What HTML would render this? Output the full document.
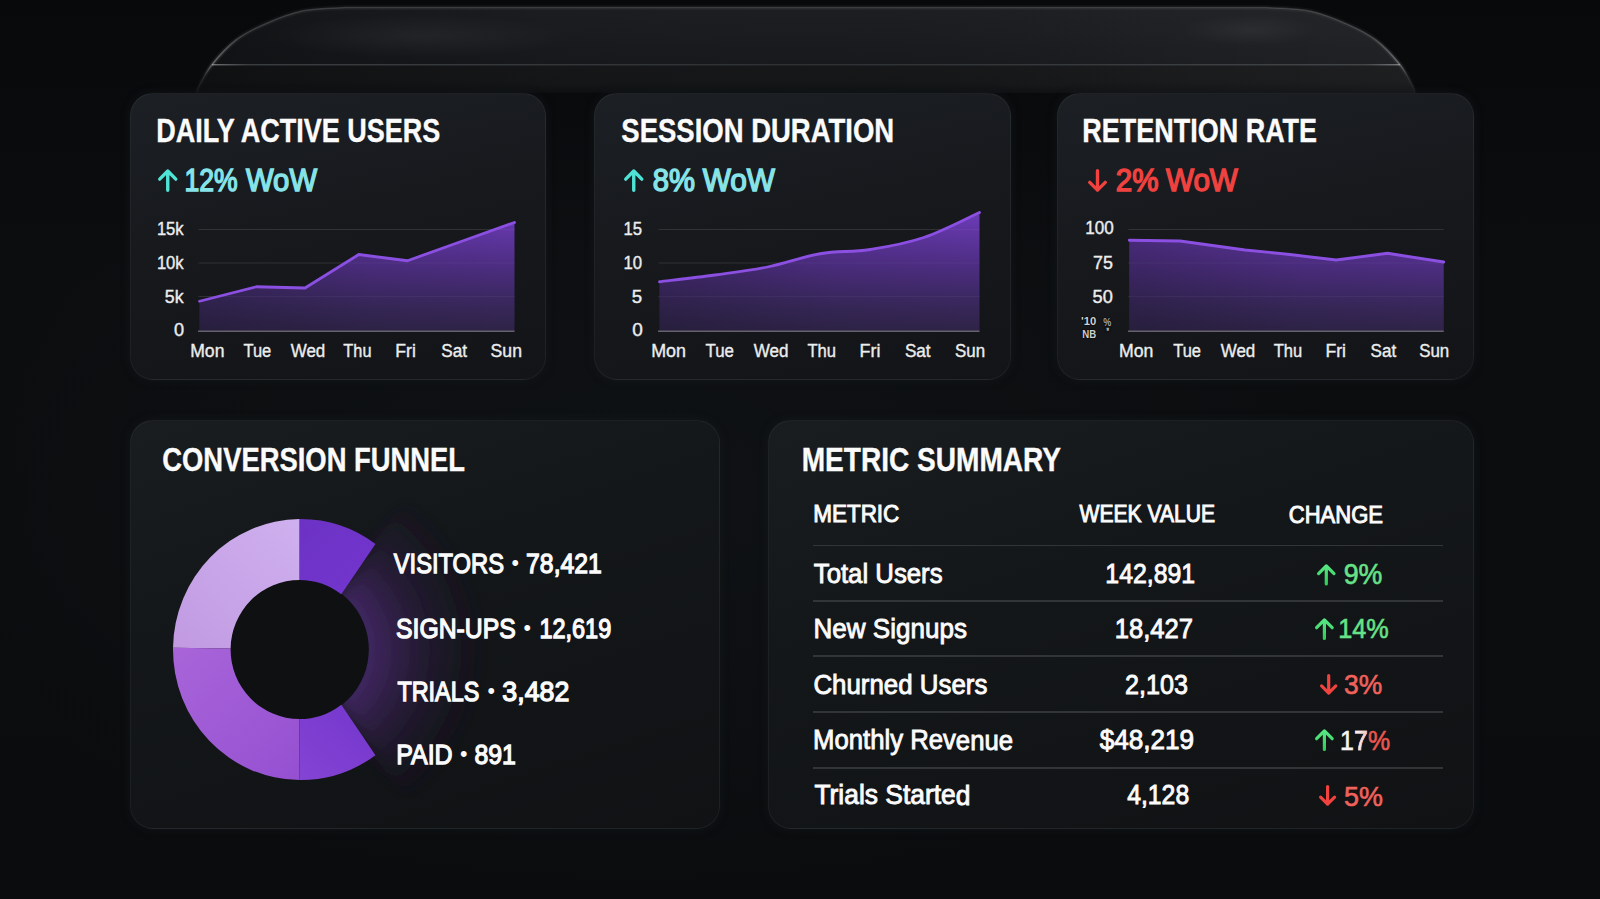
<!DOCTYPE html><html lang="en"><head><meta charset="utf-8"><title>Analytics Dashboard</title><style>

*{box-sizing:border-box;margin:0;padding:0}
html,body{width:1600px;height:899px;overflow:hidden;background:#0a0c0e}
body{position:relative;font-family:"Liberation Sans",sans-serif}
section{position:absolute;left:0;top:0;width:0;height:0}
.bg{position:absolute;inset:0;background:
 radial-gradient(1000px 560px at 40% 55%,rgba(18,21,24,.6),rgba(10,12,14,0) 72%),
 linear-gradient(180deg,#08090b 0%,#0b0d0f 30%,#0a0c0e 100%)}
.card{position:absolute;border-radius:23px;background:linear-gradient(168deg,#1c2024 0%,#17191d 42%,#121417 100%);
 border:1px solid rgba(255,255,255,.05);box-shadow:0 0 10px rgba(30,34,39,.4)}
#c4,#c5{background:linear-gradient(162deg,#1a1d20 0%,#141719 38%,#101214 100%)}
.t{position:absolute;white-space:nowrap;line-height:1;transform-origin:0 50%;font-weight:400}
.t b{font-weight:inherit}
.p7{background:linear-gradient(90deg,#f8f4f4 30%,#f3b5b1 100%);-webkit-background-clip:text;background-clip:text;color:transparent;-webkit-text-stroke-color:#f6d6d4}
.pp{color:#ea5751;-webkit-text-stroke-color:#ea5751}
.ar,.chart{position:absolute;overflow:visible}
.g{text-shadow:0 0 2px #000,0 0 1px #000}
.sep{position:absolute;left:812.5px;width:630.5px;height:1.7px;background:#323538}

</style></head><body>
<main><div class="bg"></div>
<svg width="0" height="0" style="position:absolute"><defs>
<linearGradient id="ag" gradientUnits="userSpaceOnUse" x1="0" y1="212" x2="0" y2="331">
<stop offset="0" stop-color="#6c3bb8"/><stop offset=".45" stop-color="#4d2d82"/><stop offset=".8" stop-color="#372759"/><stop offset="1" stop-color="#2e2347"/></linearGradient>
<linearGradient id="ad1" gradientUnits="userSpaceOnUse" x1="199.5" y1="0" x2="514.5" y2="0"><stop offset="0" stop-color="#15131f" stop-opacity=".28"/><stop offset=".55" stop-color="#15131f" stop-opacity=".06"/><stop offset="1" stop-color="#15131f" stop-opacity="0"/></linearGradient>
<linearGradient id="ad2" gradientUnits="userSpaceOnUse" x1="659.5" y1="0" x2="979.5" y2="0"><stop offset="0" stop-color="#15131f" stop-opacity=".28"/><stop offset=".55" stop-color="#15131f" stop-opacity=".06"/><stop offset="1" stop-color="#15131f" stop-opacity="0"/></linearGradient>
<linearGradient id="ad3" gradientUnits="userSpaceOnUse" x1="1129.25" y1="0" x2="1443.75" y2="0"><stop offset="0" stop-color="#15131f" stop-opacity=".28"/><stop offset=".55" stop-color="#15131f" stop-opacity=".06"/><stop offset="1" stop-color="#15131f" stop-opacity="0"/></linearGradient>
<radialGradient id="glow" gradientUnits="userSpaceOnUse" cx="300" cy="649.6" r="190"><stop offset="0" stop-color="#3e255e"/><stop offset=".38" stop-color="#3e255e"/><stop offset=".52" stop-color="#36214f" stop-opacity=".8"/><stop offset=".68" stop-color="#2e1d45" stop-opacity=".48"/><stop offset=".85" stop-color="#281a3c" stop-opacity=".18"/><stop offset="1" stop-color="#241636" stop-opacity="0"/></radialGradient>
<filter id="blur" x="-30%" y="-30%" width="160%" height="160%"><feGaussianBlur stdDeviation="8"/></filter>
<linearGradient id="gG" x1="0" y1="0" x2="0" y2="1"><stop offset="0" stop-color="#58e684"/><stop offset="1" stop-color="#2fcf58"/></linearGradient>
<linearGradient id="dA" gradientUnits="userSpaceOnUse" x1="300" y1="520" x2="376" y2="600"><stop offset="0" stop-color="#6c32c4"/><stop offset="1" stop-color="#7436d0"/></linearGradient>
<linearGradient id="dB" gradientUnits="userSpaceOnUse" x1="175" y1="650" x2="300" y2="520"><stop offset="0" stop-color="#c19ae2"/><stop offset="1" stop-color="#cfb0ee"/></linearGradient>
<linearGradient id="dC" gradientUnits="userSpaceOnUse" x1="175" y1="650" x2="300" y2="780"><stop offset="0" stop-color="#a864d8"/><stop offset="1" stop-color="#9550d2"/></linearGradient>
<linearGradient id="dD" gradientUnits="userSpaceOnUse" x1="300" y1="780" x2="376" y2="700"><stop offset="0" stop-color="#8444d4"/><stop offset="1" stop-color="#7336cc"/></linearGradient>
<linearGradient id="hf" gradientUnits="userSpaceOnUse" x1="0" y1="7" x2="0" y2="93"><stop offset="0" stop-color="#1c1e21"/><stop offset=".3" stop-color="#1a1c1f"/><stop offset=".665" stop-color="#17191c"/><stop offset=".675" stop-color="#151719"/><stop offset=".9" stop-color="#141618"/><stop offset="1" stop-color="#0d0f11"/></linearGradient>
<linearGradient id="hd" gradientUnits="userSpaceOnUse" x1="197" y1="0" x2="1415" y2="0"><stop offset="0" stop-color="#0a0c0e" stop-opacity=".6"/><stop offset=".1" stop-color="#0a0c0e" stop-opacity=".38"/><stop offset=".28" stop-color="#0a0c0e" stop-opacity=".08"/><stop offset=".5" stop-color="#15171a" stop-opacity="0"/><stop offset=".8" stop-color="#ffffff" stop-opacity=".02"/><stop offset="1" stop-color="#ffffff" stop-opacity=".035"/></linearGradient>
<radialGradient id="hs"><stop offset="0" stop-color="#fff" stop-opacity=".05"/><stop offset="1" stop-color="#fff" stop-opacity="0"/></radialGradient>
<linearGradient id="hr" gradientUnits="userSpaceOnUse" x1="0" y1="7" x2="0" y2="93"><stop offset="0" stop-color="#fff" stop-opacity=".15"/><stop offset=".3" stop-color="#fff" stop-opacity=".15"/><stop offset=".66" stop-color="#fff" stop-opacity=".3"/><stop offset=".8" stop-color="#fff" stop-opacity=".1"/><stop offset="1" stop-color="#fff" stop-opacity=".02"/></linearGradient>
<linearGradient id="hl" x1="0" y1="0" x2="1" y2="0"><stop offset="0" stop-color="#d0d4d8" stop-opacity=".55"/><stop offset=".03" stop-color="#8a8e92" stop-opacity=".38"/><stop offset=".5" stop-color="#6c7074" stop-opacity=".3"/><stop offset=".97" stop-color="#8a8e92" stop-opacity=".38"/><stop offset="1" stop-color="#d0d4d8" stop-opacity=".55"/></linearGradient>
</defs></svg>
<svg class="chart" style="left:0;top:0" width="1600" height="120" viewBox="0 0 1600 120"><path d="M197.0 93.0C197.2 92.0 196.0 91.7 198.5 87.0C201.0 82.3 205.7 72.5 211.9 64.7C218.2 56.9 227.3 46.7 236.0 40.0C244.7 33.3 253.0 29.2 264.0 24.4C275.0 19.6 288.5 13.8 302.0 11.0C315.5 8.2 337.8 8.1 345.0 7.5L1267.0 7.5C1274.2 8.1 1296.5 8.2 1310.0 11.0C1323.5 13.8 1337.0 19.6 1348.0 24.4C1359.0 29.2 1367.3 33.3 1376.0 40.0C1384.7 46.7 1393.8 56.9 1400.1 64.7C1406.3 72.5 1411.0 82.3 1413.5 87.0C1416.0 91.7 1414.8 92.0 1415.0 93.0Z" fill="url(#hf)"/><path d="M197.0 93.0C197.2 92.0 196.0 91.7 198.5 87.0C201.0 82.3 205.7 72.5 211.9 64.7C218.2 56.9 227.3 46.7 236.0 40.0C244.7 33.3 253.0 29.2 264.0 24.4C275.0 19.6 288.5 13.8 302.0 11.0C315.5 8.2 337.8 8.1 345.0 7.5L1267.0 7.5C1274.2 8.1 1296.5 8.2 1310.0 11.0C1323.5 13.8 1337.0 19.6 1348.0 24.4C1359.0 29.2 1367.3 33.3 1376.0 40.0C1384.7 46.7 1393.8 56.9 1400.1 64.7C1406.3 72.5 1411.0 82.3 1413.5 87.0C1416.0 91.7 1414.8 92.0 1415.0 93.0Z" fill="url(#hd)"/><ellipse cx="420" cy="36" rx="150" ry="22" fill="url(#hs)"/><ellipse cx="1250" cy="30" rx="70" ry="16" fill="url(#hs)"/><path d="M197.0 93.0C197.2 92.0 196.0 91.7 198.5 87.0C201.0 82.3 205.7 72.5 211.9 64.7C218.2 56.9 227.3 46.7 236.0 40.0C244.7 33.3 253.0 29.2 264.0 24.4C275.0 19.6 288.5 13.8 302.0 11.0C315.5 8.2 337.8 8.1 345.0 7.5L1267.0 7.5C1274.2 8.1 1296.5 8.2 1310.0 11.0C1323.5 13.8 1337.0 19.6 1348.0 24.4C1359.0 29.2 1367.3 33.3 1376.0 40.0C1384.7 46.7 1393.8 56.9 1400.1 64.7C1406.3 72.5 1411.0 82.3 1413.5 87.0C1416.0 91.7 1414.8 92.0 1415.0 93.0" fill="none" stroke="url(#hr)" stroke-width="5" stroke-opacity=".22"/><path d="M197.0 93.0C197.2 92.0 196.0 91.7 198.5 87.0C201.0 82.3 205.7 72.5 211.9 64.7C218.2 56.9 227.3 46.7 236.0 40.0C244.7 33.3 253.0 29.2 264.0 24.4C275.0 19.6 288.5 13.8 302.0 11.0C315.5 8.2 337.8 8.1 345.0 7.5L1267.0 7.5C1274.2 8.1 1296.5 8.2 1310.0 11.0C1323.5 13.8 1337.0 19.6 1348.0 24.4C1359.0 29.2 1367.3 33.3 1376.0 40.0C1384.7 46.7 1393.8 56.9 1400.1 64.7C1406.3 72.5 1411.0 82.3 1413.5 87.0C1416.0 91.7 1414.8 92.0 1415.0 93.0" fill="none" stroke="url(#hr)" stroke-width="1.6"/><rect x="212" y="64.1" width="1188" height="1.3" fill="url(#hl)"/></svg>
<section id="s1" aria-label="Daily Active Users"><div class="card" id="c1" style="left:130px;top:93px;width:416px;height:287px"></div>
<svg class="chart" style="left:0;top:0" width="1600" height="899" viewBox="0 0 1600 899"><line x1="198" x2="514.5" y1="229.5" y2="229.5" stroke="#ffffff" stroke-opacity="0.075" stroke-width="1.2"/><line x1="198" x2="514.5" y1="263" y2="263" stroke="#ffffff" stroke-opacity="0.075" stroke-width="1.2"/><line x1="198" x2="514.5" y1="296.5" y2="296.5" stroke="#ffffff" stroke-opacity="0.075" stroke-width="1.2"/><polygon points="199.5,331.25 199.50,301.25 256.25,286.75 305.00,288.00 358.75,254.50 407.50,260.75 462.50,241.00 514.50,222.50 514.5,331.25" fill="url(#ag)"/><polygon points="199.5,331.25 199.50,301.25 256.25,286.75 305.00,288.00 358.75,254.50 407.50,260.75 462.50,241.00 514.50,222.50 514.5,331.25" fill="url(#ad1)"/><line x1="199.5" x2="514.5" y1="229.5" y2="229.5" stroke="#ffffff" stroke-opacity="0.045" stroke-width="1.2"/><line x1="199.5" x2="514.5" y1="263" y2="263" stroke="#ffffff" stroke-opacity="0.045" stroke-width="1.2"/><line x1="199.5" x2="514.5" y1="296.5" y2="296.5" stroke="#ffffff" stroke-opacity="0.045" stroke-width="1.2"/><polyline points="199.50,301.25 256.25,286.75 305.00,288.00 358.75,254.50 407.50,260.75 462.50,241.00 514.50,222.50" fill="none" stroke="#8b50e2" stroke-width="2.8" stroke-linejoin="round" stroke-linecap="round"/><line x1="198" x2="514.5" y1="331.25" y2="331.25" stroke="#65616f" stroke-width="1.3"/></svg>
<h2 class="t" style="left:156px;top:115px;font-size:32.49px;transform:translate(0.19px,0.32px) scaleX(0.8311) rotate(.02deg);color:#fbfbfc;font-weight:700;-webkit-text-stroke:0.35px #fbfbfc;">DAILY ACTIVE USERS</h2>
<svg class="ar" role="img" aria-label="up" style="left:158.00px;top:169.00px" width="19.50" height="22.90" viewBox="0 0 19.50 22.90"><path d="M9.75 21.20V2.04M1.70 10.09L9.75 2.04L17.80 10.09" fill="none" stroke="#4fe3d6" stroke-width="3.4" stroke-linecap="round" stroke-linejoin="round"/></svg>
<span class="t" style="left:184px;top:166px;font-size:30.96px;transform:translate(0.38px,0.30px) scaleX(0.8582) rotate(.02deg);color:#86e4e9;-webkit-text-stroke:1.4px #86e4e9;">12%</span>
<span class="t" style="left:246px;top:166px;font-size:30.96px;transform:translate(0.02px,0.30px) scaleX(0.9453) rotate(.02deg);color:#86e4e9;-webkit-text-stroke:1.4px #86e4e9;">WoW</span>
<span class="t" style="left:156px;top:219px;font-size:18.60px;transform:translate(0.88px,0.90px) scaleX(0.8935) rotate(.02deg);color:#eceded;-webkit-text-stroke:0.4px #eceded;">15k</span>
<span class="t" style="left:156px;top:253px;font-size:18.60px;transform:translate(0.88px,0.90px) scaleX(0.8935) rotate(.02deg);color:#eceded;-webkit-text-stroke:0.4px #eceded;">10k</span>
<span class="t" style="left:164px;top:287px;font-size:18.60px;transform:translate(0.86px,0.90px) scaleX(0.9508) rotate(.02deg);color:#eceded;-webkit-text-stroke:0.4px #eceded;">5k</span>
<span class="t" style="left:173px;top:320px;font-size:18.60px;transform:translate(0.90px,0.90px) scaleX(0.9750) rotate(.02deg);color:#eceded;-webkit-text-stroke:0.4px #eceded;">0</span>
<span class="t" style="left:190px;top:341px;font-size:19.19px;transform:translate(0.22px,0.20px) scaleX(0.9160) rotate(.02deg);color:#eceded;-webkit-text-stroke:0.4px #eceded;">Mon</span>
<span class="t" style="left:243px;top:341px;font-size:19.19px;transform:translate(0.46px,0.20px) scaleX(0.8588) rotate(.02deg);color:#eceded;-webkit-text-stroke:0.4px #eceded;">Tue</span>
<span class="t" style="left:290px;top:341px;font-size:19.19px;transform:translate(0.71px,0.20px) scaleX(0.8841) rotate(.02deg);color:#eceded;-webkit-text-stroke:0.4px #eceded;">Wed</span>
<span class="t" style="left:343px;top:341px;font-size:19.19px;transform:translate(0.37px,0.20px) scaleX(0.8497) rotate(.02deg);color:#eceded;-webkit-text-stroke:0.4px #eceded;">Thu</span>
<span class="t" style="left:395px;top:341px;font-size:19.19px;transform:translate(0.35px,0.20px) scaleX(0.9175) rotate(.02deg);color:#eceded;-webkit-text-stroke:0.4px #eceded;">Fri</span>
<span class="t" style="left:441px;top:341px;font-size:19.19px;transform:translate(0.25px,0.20px) scaleX(0.8934) rotate(.02deg);color:#eceded;-webkit-text-stroke:0.4px #eceded;">Sat</span>
<span class="t" style="left:490px;top:341px;font-size:19.19px;transform:translate(0.58px,0.20px) scaleX(0.9183) rotate(.02deg);color:#eceded;-webkit-text-stroke:0.4px #eceded;">Sun</span>
</section>
<section id="s2" aria-label="Session Duration"><div class="card" id="c2" style="left:594px;top:93px;width:417px;height:287px"></div>
<svg class="chart" style="left:0;top:0" width="1600" height="899" viewBox="0 0 1600 899"><line x1="658" x2="979.5" y1="229.5" y2="229.5" stroke="#ffffff" stroke-opacity="0.075" stroke-width="1.2"/><line x1="658" x2="979.5" y1="263" y2="263" stroke="#ffffff" stroke-opacity="0.075" stroke-width="1.2"/><line x1="658" x2="979.5" y1="296.5" y2="296.5" stroke="#ffffff" stroke-opacity="0.075" stroke-width="1.2"/><path d="M659.50 281.75C669.67 280.51 695.20 277.70 715.00 275.00C734.80 272.30 748.25 270.90 767.50 267.00C786.75 263.10 801.21 256.96 820.00 253.75C838.79 250.54 850.98 252.48 870.00 249.50C889.02 246.52 903.67 244.28 923.75 237.50C943.83 230.72 969.28 217.08 979.50 212.50L979.5 331.25L659.5 331.25Z" fill="url(#ag)"/><path d="M659.50 281.75C669.67 280.51 695.20 277.70 715.00 275.00C734.80 272.30 748.25 270.90 767.50 267.00C786.75 263.10 801.21 256.96 820.00 253.75C838.79 250.54 850.98 252.48 870.00 249.50C889.02 246.52 903.67 244.28 923.75 237.50C943.83 230.72 969.28 217.08 979.50 212.50L979.5 331.25L659.5 331.25Z" fill="url(#ad2)"/><line x1="659.5" x2="979.5" y1="229.5" y2="229.5" stroke="#ffffff" stroke-opacity="0.045" stroke-width="1.2"/><line x1="659.5" x2="979.5" y1="263" y2="263" stroke="#ffffff" stroke-opacity="0.045" stroke-width="1.2"/><line x1="659.5" x2="979.5" y1="296.5" y2="296.5" stroke="#ffffff" stroke-opacity="0.045" stroke-width="1.2"/><path d="M659.50 281.75C669.67 280.51 695.20 277.70 715.00 275.00C734.80 272.30 748.25 270.90 767.50 267.00C786.75 263.10 801.21 256.96 820.00 253.75C838.79 250.54 850.98 252.48 870.00 249.50C889.02 246.52 903.67 244.28 923.75 237.50C943.83 230.72 969.28 217.08 979.50 212.50" fill="none" stroke="#8b50e2" stroke-width="2.8" stroke-linejoin="round" stroke-linecap="round"/><line x1="658" x2="979.5" y1="331.25" y2="331.25" stroke="#65616f" stroke-width="1.3"/></svg>
<h2 class="t" style="left:621px;top:115px;font-size:32.49px;transform:translate(0.32px,0.32px) scaleX(0.8462) rotate(.02deg);color:#fbfbfc;font-weight:700;-webkit-text-stroke:0.35px #fbfbfc;">SESSION DURATION</h2>
<svg class="ar" role="img" aria-label="up" style="left:624.00px;top:169.00px" width="19.50" height="22.90" viewBox="0 0 19.50 22.90"><path d="M9.75 21.20V2.04M1.70 10.09L9.75 2.04L17.80 10.09" fill="none" stroke="#4fe3d6" stroke-width="3.4" stroke-linecap="round" stroke-linejoin="round"/></svg>
<span class="t" style="left:652px;top:166px;font-size:30.96px;transform:translate(0.83px,0.30px) scaleX(0.9445) rotate(.02deg);color:#86e4e9;-webkit-text-stroke:1.4px #86e4e9;">8%</span>
<span class="t" style="left:702px;top:166px;font-size:30.96px;transform:translate(0.65px,0.30px) scaleX(0.9634) rotate(.02deg);color:#86e4e9;-webkit-text-stroke:1.4px #86e4e9;">WoW</span>
<span class="t" style="left:623px;top:219px;font-size:18.60px;transform:translate(0.55px,0.90px) scaleX(0.8976) rotate(.02deg);color:#eceded;-webkit-text-stroke:0.4px #eceded;">15</span>
<span class="t" style="left:623px;top:253px;font-size:18.60px;transform:translate(0.40px,0.90px) scaleX(0.9010) rotate(.02deg);color:#eceded;-webkit-text-stroke:0.4px #eceded;">10</span>
<span class="t" style="left:631px;top:287px;font-size:18.60px;transform:translate(0.84px,0.90px) scaleX(1.0011) rotate(.02deg);color:#eceded;-webkit-text-stroke:0.4px #eceded;">5</span>
<span class="t" style="left:632px;top:320px;font-size:18.60px;transform:translate(0.20px,0.90px) scaleX(1.0212) rotate(.02deg);color:#eceded;-webkit-text-stroke:0.4px #eceded;">0</span>
<span class="t" style="left:651px;top:341px;font-size:19.19px;transform:translate(0.22px,0.20px) scaleX(0.9326) rotate(.02deg);color:#eceded;-webkit-text-stroke:0.4px #eceded;">Mon</span>
<span class="t" style="left:705px;top:341px;font-size:19.19px;transform:translate(0.48px,0.20px) scaleX(0.8778) rotate(.02deg);color:#eceded;-webkit-text-stroke:0.4px #eceded;">Tue</span>
<span class="t" style="left:753px;top:341px;font-size:19.19px;transform:translate(0.73px,0.20px) scaleX(0.8880) rotate(.02deg);color:#eceded;-webkit-text-stroke:0.4px #eceded;">Wed</span>
<span class="t" style="left:807px;top:341px;font-size:19.19px;transform:translate(0.41px,0.20px) scaleX(0.8649) rotate(.02deg);color:#eceded;-webkit-text-stroke:0.4px #eceded;">Thu</span>
<span class="t" style="left:859px;top:341px;font-size:19.19px;transform:translate(0.54px,0.20px) scaleX(0.9320) rotate(.02deg);color:#eceded;-webkit-text-stroke:0.4px #eceded;">Fri</span>
<span class="t" style="left:904px;top:341px;font-size:19.19px;transform:translate(0.89px,0.20px) scaleX(0.8920) rotate(.02deg);color:#eceded;-webkit-text-stroke:0.4px #eceded;">Sat</span>
<span class="t" style="left:954px;top:341px;font-size:19.19px;transform:translate(0.99px,0.20px) scaleX(0.8812) rotate(.02deg);color:#eceded;-webkit-text-stroke:0.4px #eceded;">Sun</span>
</section>
<section id="s3" aria-label="Retention Rate"><div class="card" id="c3" style="left:1057px;top:93px;width:417px;height:287px"></div>
<svg class="chart" style="left:0;top:0" width="1600" height="899" viewBox="0 0 1600 899"><line x1="1128" x2="1443.75" y1="229.5" y2="229.5" stroke="#ffffff" stroke-opacity="0.075" stroke-width="1.2"/><line x1="1128" x2="1443.75" y1="263" y2="263" stroke="#ffffff" stroke-opacity="0.075" stroke-width="1.2"/><line x1="1128" x2="1443.75" y1="296.5" y2="296.5" stroke="#ffffff" stroke-opacity="0.075" stroke-width="1.2"/><polygon points="1129.25,331.25 1129.25,240.25 1180.00,241.00 1245.00,250.00 1290.00,254.50 1336.25,260.00 1387.50,253.25 1443.75,262.00 1443.75,331.25" fill="url(#ag)"/><polygon points="1129.25,331.25 1129.25,240.25 1180.00,241.00 1245.00,250.00 1290.00,254.50 1336.25,260.00 1387.50,253.25 1443.75,262.00 1443.75,331.25" fill="url(#ad3)"/><line x1="1129.25" x2="1443.75" y1="229.5" y2="229.5" stroke="#ffffff" stroke-opacity="0.045" stroke-width="1.2"/><line x1="1129.25" x2="1443.75" y1="263" y2="263" stroke="#ffffff" stroke-opacity="0.045" stroke-width="1.2"/><line x1="1129.25" x2="1443.75" y1="296.5" y2="296.5" stroke="#ffffff" stroke-opacity="0.045" stroke-width="1.2"/><polyline points="1129.25,240.25 1180.00,241.00 1245.00,250.00 1290.00,254.50 1336.25,260.00 1387.50,253.25 1443.75,262.00" fill="none" stroke="#8b50e2" stroke-width="2.8" stroke-linejoin="round" stroke-linecap="round"/><line x1="1128" x2="1443.75" y1="331.25" y2="331.25" stroke="#65616f" stroke-width="1.3"/></svg>
<h2 class="t" style="left:1082px;top:115px;font-size:32.49px;transform:translate(0.34px,0.32px) scaleX(0.8303) rotate(.02deg);color:#fbfbfc;font-weight:700;-webkit-text-stroke:0.35px #fbfbfc;">RETENTION RATE</h2>
<svg class="ar" role="img" aria-label="down" style="left:1088.30px;top:168.90px" width="19.00" height="23.20" viewBox="0 0 19.00 23.20"><path d="M9.50 1.70V21.16M1.70 13.36L9.50 21.16L17.30 13.36" fill="none" stroke="#f0423f" stroke-width="3.4" stroke-linecap="round" stroke-linejoin="round"/></svg>
<span class="t" style="left:1115px;top:166px;font-size:30.96px;transform:translate(0.80px,0.30px) scaleX(0.9571) rotate(.02deg);color:#f0423f;-webkit-text-stroke:1.4px #f0423f;">2%</span>
<span class="t" style="left:1165px;top:166px;font-size:30.96px;transform:translate(0.94px,0.30px) scaleX(0.9578) rotate(.02deg);color:#f0423f;-webkit-text-stroke:1.4px #f0423f;">WoW</span>
<span class="t" style="left:1085px;top:219px;font-size:18.60px;transform:translate(0.31px,0.40px) scaleX(0.9176) rotate(.02deg);color:#eceded;-webkit-text-stroke:0.4px #eceded;">100</span>
<span class="t" style="left:1093px;top:253px;font-size:18.60px;transform:translate(0.01px,0.90px) scaleX(0.9612) rotate(.02deg);color:#eceded;-webkit-text-stroke:0.4px #eceded;">75</span>
<span class="t" style="left:1092px;top:287px;font-size:18.60px;transform:translate(0.52px,0.90px) scaleX(0.9788) rotate(.02deg);color:#eceded;-webkit-text-stroke:0.4px #eceded;">50</span>
<span class="t" style="left:1118px;top:341px;font-size:19.19px;transform:translate(1.00px,0.20px) scaleX(0.9196) rotate(.02deg);color:#eceded;-webkit-text-stroke:0.4px #eceded;">Mon</span>
<span class="t" style="left:1173px;top:341px;font-size:19.19px;transform:translate(0.25px,0.20px) scaleX(0.8576) rotate(.02deg);color:#eceded;-webkit-text-stroke:0.4px #eceded;">Tue</span>
<span class="t" style="left:1220px;top:341px;font-size:19.19px;transform:translate(0.71px,0.20px) scaleX(0.8835) rotate(.02deg);color:#eceded;-webkit-text-stroke:0.4px #eceded;">Wed</span>
<span class="t" style="left:1273px;top:341px;font-size:19.19px;transform:translate(0.75px,0.20px) scaleX(0.8601) rotate(.02deg);color:#eceded;-webkit-text-stroke:0.4px #eceded;">Thu</span>
<span class="t" style="left:1325px;top:341px;font-size:19.19px;transform:translate(0.45px,0.20px) scaleX(0.9206) rotate(.02deg);color:#eceded;-webkit-text-stroke:0.4px #eceded;">Fri</span>
<span class="t" style="left:1370px;top:341px;font-size:19.19px;transform:translate(0.52px,0.20px) scaleX(0.8896) rotate(.02deg);color:#eceded;-webkit-text-stroke:0.4px #eceded;">Sat</span>
<span class="t" style="left:1419px;top:341px;font-size:19.19px;transform:translate(0.18px,0.20px) scaleX(0.8813) rotate(.02deg);color:#eceded;-webkit-text-stroke:0.4px #eceded;">Sun</span>
<span class="t g" style="left:1081px;top:316px;font-size:11.50px;transform:translate(0.07px,0.00px) scaleX(0.9763) rotate(.02deg);color:#cfd0d2;font-weight:700;">'10</span>
<span class="t g" style="left:1082px;top:329px;font-size:11.50px;transform:translate(0.36px,0.40px) scaleX(0.8355) rotate(.02deg);color:#cfd0d2;font-weight:700;">NB</span>
<span class="t g" style="left:1103px;top:318px;font-size:10.00px;transform:translate(0.32px,0.00px) scaleX(0.9004) rotate(.02deg);color:#a9aaad;font-weight:700;">%</span>
<span class="t g" style="left:1105px;top:326px;font-size:12.00px;transform:translate(0.60px,0.00px) scaleX(1.5483) rotate(.02deg);color:#a9aaad;font-weight:700;line-height:1;">'</span>
</section>
<section id="s4" aria-label="Conversion Funnel"><div class="card" id="c4" style="left:130px;top:420px;width:590px;height:409px"></div>
<svg class="chart" style="left:0;top:0" width="1600" height="899" viewBox="0 0 1600 899"><g filter="url(#blur)"><path d="M300 649.6L409.0 494.0A190 190 0 0 1 409.0 805.2Z" fill="url(#glow)"/></g><ellipse cx="299.4" cy="649.5" rx="69.39999999999999" ry="70.1" fill="#0e1012"/><path d="M299.39 519.10A127.5 130.5 0 0 1 375.44 544.02L341.28 594.36A68.8 69.5 0 0 0 299.40 580.00Z" fill="url(#dA)"/><path d="M173.01 647.78A127.5 130.5 0 0 1 299.39 519.10L299.40 580.00A68.8 69.5 0 0 0 230.61 648.53Z" fill="url(#dB)"/><path d="M299.39 780.10A127.5 130.5 0 0 1 173.01 647.78L230.61 648.53A68.8 69.5 0 0 0 299.40 719.00Z" fill="url(#dC)"/><path d="M375.44 755.18A127.5 130.5 0 0 1 299.39 780.10L299.40 719.00A68.8 69.5 0 0 0 341.28 704.64Z" fill="url(#dD)"/></svg>
<h2 class="t" style="left:162px;top:444px;font-size:32.49px;transform:translate(0.30px,0.32px) scaleX(0.8430) rotate(.02deg);color:#fbfbfc;font-weight:700;-webkit-text-stroke:0.35px #fbfbfc;">CONVERSION FUNNEL</h2>
<span class="t" style="left:393px;top:550px;font-size:27.98px;transform:translate(0.73px,0.10px) scaleX(0.8481) rotate(.02deg);color:#fbfbfc;-webkit-text-stroke:1.3px #fbfbfc;">VISITORS</span>
<span class="t" style="left:511.45px;top:553.04px;font-size:21.40px;color:#fbfbfc">&bull;</span>
<span class="t" style="left:526px;top:550px;font-size:27.98px;transform:translate(0.10px,0.10px) scaleX(0.8855) rotate(.02deg);color:#fbfbfc;-webkit-text-stroke:1.3px #fbfbfc;">78,421</span>
<span class="t" style="left:396px;top:614px;font-size:27.54px;transform:translate(0.06px,0.60px) scaleX(0.8998) rotate(.02deg);color:#fbfbfc;-webkit-text-stroke:1.3px #fbfbfc;">SIGN-UPS</span>
<span class="t" style="left:523.45px;top:617.69px;font-size:21.40px;color:#fbfbfc">&bull;</span>
<span class="t" style="left:539px;top:614px;font-size:27.54px;transform:translate(0.48px,0.60px) scaleX(0.8514) rotate(.02deg);color:#fbfbfc;-webkit-text-stroke:1.3px #fbfbfc;">12,619</span>
<span class="t" style="left:397px;top:677px;font-size:27.76px;transform:translate(0.39px,0.55px) scaleX(0.8441) rotate(.02deg);color:#fbfbfc;-webkit-text-stroke:1.3px #fbfbfc;">TRIALS</span>
<span class="t" style="left:487.45px;top:680.57px;font-size:21.40px;color:#fbfbfc">&bull;</span>
<span class="t" style="left:502px;top:677px;font-size:27.76px;transform:translate(0.37px,0.55px) scaleX(0.9642) rotate(.02deg);color:#fbfbfc;-webkit-text-stroke:1.3px #fbfbfc;">3,482</span>
<span class="t" style="left:396px;top:741px;font-size:27.91px;transform:translate(0.23px,0.35px) scaleX(0.8939) rotate(.02deg);color:#fbfbfc;-webkit-text-stroke:1.3px #fbfbfc;">PAID</span>
<span class="t" style="left:460.00px;top:744.32px;font-size:21.40px;color:#fbfbfc">&bull;</span>
<span class="t" style="left:474px;top:741px;font-size:27.91px;transform:translate(0.48px,0.35px) scaleX(0.8905) rotate(.02deg);color:#fbfbfc;-webkit-text-stroke:1.3px #fbfbfc;">891</span>
</section>
<section id="s5" aria-label="Metric Summary"><div class="card" id="c5" style="left:768px;top:420px;width:706px;height:409px"></div>
<i class="sep" style="top:544.5px"></i><i class="sep" style="top:600px"></i><i class="sep" style="top:655.4px"></i><i class="sep" style="top:711.4px"></i><i class="sep" style="top:766.9px"></i>
<h2 class="t" style="left:801px;top:444px;font-size:32.49px;transform:translate(0.70px,0.32px) scaleX(0.8639) rotate(.02deg);color:#fbfbfc;font-weight:700;-webkit-text-stroke:0.35px #fbfbfc;">METRIC SUMMARY</h2>
<span class="t" style="left:813px;top:503px;font-size:23.62px;transform:translate(0.20px,0.42px) scaleX(0.9518) rotate(.02deg);color:#fbfbfc;-webkit-text-stroke:0.95px #fbfbfc;">METRIC</span>
<span class="t" style="left:1079px;top:503px;font-size:23.62px;transform:translate(0.61px,0.42px) scaleX(0.8923) rotate(.02deg);color:#fbfbfc;-webkit-text-stroke:0.95px #fbfbfc;">WEEK VALUE</span>
<span class="t" style="left:1288px;top:502px;font-size:23.91px;transform:translate(0.77px,0.52px) scaleX(0.9217) rotate(.02deg);color:#fbfbfc;-webkit-text-stroke:0.95px #fbfbfc;">CHANGE</span>
<span class="t" style="left:813px;top:559px;font-size:28.20px;transform:translate(0.78px,0.05px) scaleX(0.9134) rotate(.02deg);color:#fbfbfc;-webkit-text-stroke:0.9px #fbfbfc;">Total Users</span>
<span class="t" style="left:1105px;top:559px;font-size:28.20px;transform:translate(0.30px,0.05px) scaleX(0.8822) rotate(.02deg);color:#fbfbfc;-webkit-text-stroke:0.9px #fbfbfc;">142,891</span>
<span class="t" style="left:813px;top:615px;font-size:27.91px;transform:translate(0.53px,0.25px) scaleX(0.9331) rotate(.02deg);color:#fbfbfc;-webkit-text-stroke:0.9px #fbfbfc;">New Signups</span>
<span class="t" style="left:1114px;top:615px;font-size:27.91px;transform:translate(0.78px,0.25px) scaleX(0.9167) rotate(.02deg);color:#fbfbfc;-webkit-text-stroke:0.9px #fbfbfc;">18,427</span>
<span class="t" style="left:813px;top:670px;font-size:27.91px;transform:translate(0.42px,0.75px) scaleX(0.9267) rotate(.02deg);color:#fbfbfc;-webkit-text-stroke:0.9px #fbfbfc;">Churned Users</span>
<span class="t" style="left:1125px;top:670px;font-size:27.91px;transform:translate(0.07px,0.75px) scaleX(0.9008) rotate(.02deg);color:#fbfbfc;-webkit-text-stroke:0.9px #fbfbfc;">2,103</span>
<span class="t" style="left:813px;top:726px;font-size:27.76px;transform:translate(0.12px,0.45px) scaleX(0.9255) rotate(.02deg);color:#fbfbfc;-webkit-text-stroke:0.9px #fbfbfc;">Monthly Revenue</span>
<span class="t" style="left:1099px;top:726px;font-size:27.76px;transform:translate(0.65px,0.45px) scaleX(0.9420) rotate(.02deg);color:#fbfbfc;-webkit-text-stroke:0.9px #fbfbfc;">$48,219</span>
<span class="t" style="left:814px;top:781px;font-size:27.33px;transform:translate(0.42px,0.45px) scaleX(0.9660) rotate(.02deg);color:#fbfbfc;-webkit-text-stroke:0.9px #fbfbfc;">Trials Started</span>
<span class="t" style="left:1127px;top:781px;font-size:27.33px;transform:translate(0.20px,0.45px) scaleX(0.9062) rotate(.02deg);color:#fbfbfc;-webkit-text-stroke:0.9px #fbfbfc;">4,128</span>
<svg class="ar" role="img" aria-label="up" style="left:1317.30px;top:563.80px" width="18.60" height="21.60" viewBox="0 0 18.60 21.60"><path d="M9.30 20.00V1.92M1.60 9.62L9.30 1.92L17.00 9.62" fill="none" stroke="url(#gG)" stroke-width="3.2" stroke-linecap="round" stroke-linejoin="round"/></svg>
<span class="t" style="left:1343px;top:559px;font-size:28.63px;transform:translate(0.63px,0.70px) scaleX(0.9357) rotate(.02deg);color:#66e288;-webkit-text-stroke:0.6px #66e288;">9%</span>
<svg class="ar" role="img" aria-label="up" style="left:1314.70px;top:617.80px" width="18.80" height="22.00" viewBox="0 0 18.80 22.00"><path d="M9.40 20.40V1.92M1.60 9.72L9.40 1.92L17.20 9.72" fill="none" stroke="url(#gG)" stroke-width="3.2" stroke-linecap="round" stroke-linejoin="round"/></svg>
<span class="t" style="left:1338px;top:614px;font-size:28.49px;transform:translate(0.28px,0.30px) scaleX(0.8868) rotate(.02deg);color:#66e288;-webkit-text-stroke:0.6px #66e288;">14%</span>
<svg class="ar" role="img" aria-label="down" style="left:1319.60px;top:673.50px" width="17.40" height="21.00" viewBox="0 0 17.40 21.00"><path d="M8.70 1.60V19.08M1.60 11.98L8.70 19.08L15.80 11.98" fill="none" stroke="#f0423e" stroke-width="3.2" stroke-linecap="round" stroke-linejoin="round"/></svg>
<span class="t" style="left:1344px;top:670px;font-size:28.34px;transform:translate(0.12px,0.10px) scaleX(0.9346) rotate(.02deg);color:#f0625c;-webkit-text-stroke:0.6px #f0625c;">3%</span>
<svg class="ar" role="img" aria-label="up" style="left:1315.00px;top:729.30px" width="18.80" height="22.00" viewBox="0 0 18.80 22.00"><path d="M9.40 20.40V1.92M1.60 9.72L9.40 1.92L17.20 9.72" fill="none" stroke="url(#gG)" stroke-width="3.2" stroke-linecap="round" stroke-linejoin="round"/></svg>
<span class="t" style="left:1340px;top:725px;font-size:28.34px;transform:translate(0.10px,0.80px) scaleX(0.8812) rotate(.02deg);color:#f8f4f4;-webkit-text-stroke:0.6px #f8f4f4;">1<b class="p7">7</b><b class="pp">%</b></span>
<svg class="ar" role="img" aria-label="down" style="left:1319.20px;top:784.90px" width="17.20" height="21.10" viewBox="0 0 17.20 21.10"><path d="M8.60 1.60V19.18M1.60 12.18L8.60 19.18L15.60 12.18" fill="none" stroke="#f0423e" stroke-width="3.2" stroke-linecap="round" stroke-linejoin="round"/></svg>
<span class="t" style="left:1344px;top:781px;font-size:28.34px;transform:translate(0.10px,0.60px) scaleX(0.9504) rotate(.02deg);color:#f0625c;-webkit-text-stroke:0.6px #f0625c;">5%</span>
</section>
</main></body></html>
